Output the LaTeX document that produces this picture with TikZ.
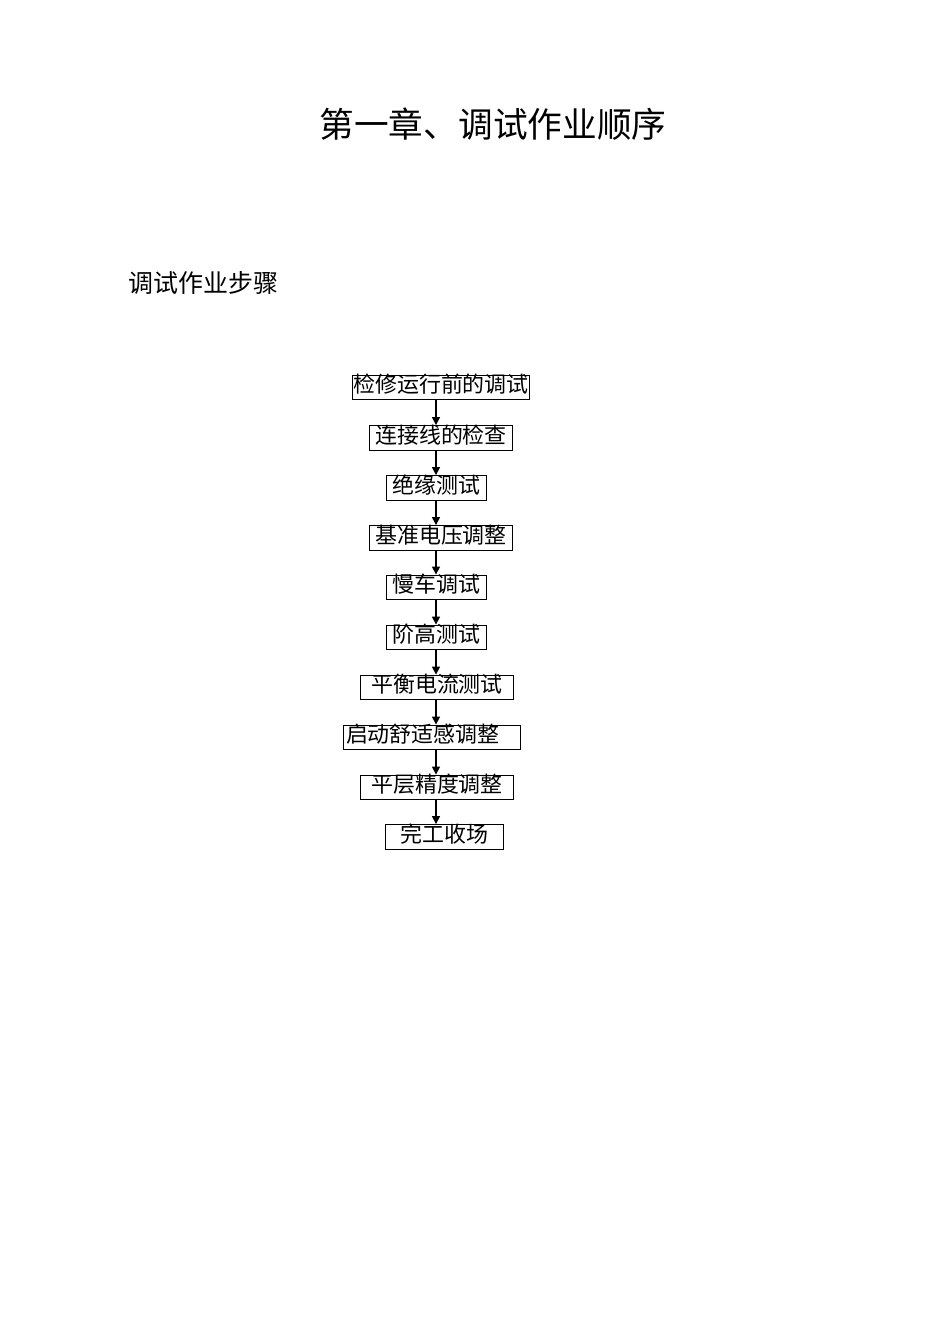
\documentclass[tikz,border=0pt]{standalone}
\usepackage{fontspec}
\usepackage{xcolor}
\usetikzlibrary{arrows.meta}
\newfontfamily\cjk{Noto Sans CJK SC}

\tikzset{
    stepbox/.style={draw, line width=0.6pt, inner sep=0pt, minimum height=0.55cm,
        text height=1em, text depth=0.34em, font=\cjk\fontsize{13.8}{16}\selectfont},
    flow/.style={line width=0.9pt, -{Triangle[length=5pt, width=5pt]}}
}

\begin{document}
\begin{tikzpicture}[x=0.0221cm, y=-0.0221cm]
    \useasboundingbox (0,0) rectangle (950,1344);

    \node[inner sep=0pt, font=\cjk\fontsize{21.8}{24}\selectfont] (title) at (493,124) {第一章、调试作业顺序};
    \node[anchor=west, inner sep=0pt, font=\cjk\fontsize{15.7}{18}\selectfont] (head) at (128,283) {调试作业步骤};

    \node[stepbox, minimum width=3.93cm] (s1) at (441,387.5) {检修运行前的调试};
    \node[stepbox, minimum width=3.18cm] (s2) at (441,438) {连接线的检查};
    \node[stepbox, minimum width=2.23cm] (s3) at (436.5,488) {绝缘测试};
    \node[stepbox, minimum width=3.18cm] (s4) at (441,538) {基准电压调整};
    \node[stepbox, minimum width=2.23cm] (s5) at (436.5,587.5) {慢车调试};
    \node[stepbox, minimum width=2.23cm] (s6) at (436.5,637.5) {阶高测试};
    \node[stepbox, minimum width=3.36cm] (s7) at (437,687.5) {平衡电流测试};
    \node[stepbox, minimum width=3.93cm, text width=3.8cm, align=left] (s8) at (432,737.5) {启动舒适感调整};
    \node[stepbox, minimum width=3.36cm] (s9) at (437,787.5) {平层精度调整};
    \node[stepbox, minimum width=2.59cm] (s10) at (444.5,837) {完工收场};

    \coordinate (ax) at (436,0);
    \foreach \i [evaluate=\i as \j using int(\i+1)] in {1,...,9}
        \draw[flow] (s\i.south -| ax) -- (s\j.north -| ax);
\end{tikzpicture}
\end{document}
